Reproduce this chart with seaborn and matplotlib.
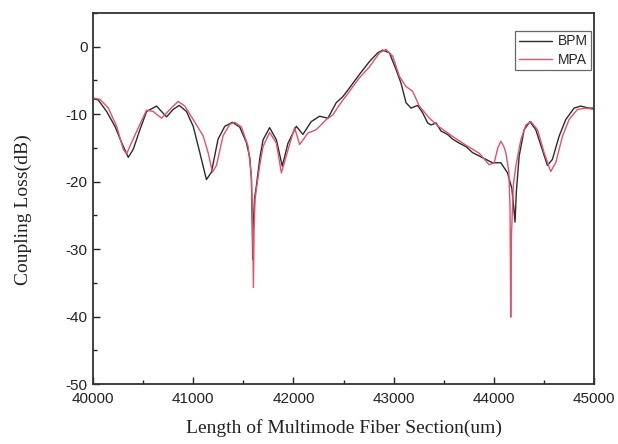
import numpy as np
import pandas as pd
import matplotlib
matplotlib.use("Agg")
import matplotlib.pyplot as plt
from matplotlib.ticker import MultipleLocator
import seaborn as sns

# ---- data ----
bpm_x = [40000, 40053, 40136, 40219, 40285, 40352, 40402, 40468, 40535, 40634,
         40684, 40734, 40800, 40860, 40933, 41000, 41066, 41132, 41182, 41248,
         41315, 41391, 41464, 41531, 41565, 41581, 41588, 41594, 41600, 41612,
         41630, 41665, 41697, 41763, 41830, 41889, 41946, 42029, 42095, 42178,
         42261, 42344, 42427, 42493, 42560, 42659, 42759, 42842, 42892, 42958,
         43025, 43074, 43124, 43174, 43240, 43290, 43340, 43374, 43424, 43473,
         43539, 43589, 43656, 43722, 43788, 43855, 43921, 43987, 44070, 44137,
         44180, 44200, 44212, 44225, 44253, 44303, 44360, 44419, 44485, 44535,
         44585, 44651, 44718, 44801, 44867, 44950, 45000]
bpm_y = [-7.7, -7.9, -9.6, -11.8, -14.2, -16.4, -15.2, -12.3, -9.6, -8.8,
         -9.6, -10.4, -9.3, -8.7, -9.6, -11.8, -15.7, -19.7, -18.6, -13.7,
         -11.8, -11.2, -11.9, -14.2, -16.5, -19.5, -25.0, -31.5, -26.5, -22.5,
         -20.7, -16.5, -13.8, -12.0, -13.8, -17.7, -14.3, -11.8, -13.0, -11.1,
         -10.3, -10.6, -8.3, -7.4, -6.1, -4.1, -2.2, -0.9, -0.5, -0.9,
         -3.4, -5.4, -8.3, -9.1, -8.7, -9.8, -11.3, -11.6, -11.3, -12.5,
         -13.0, -13.7, -14.3, -14.8, -15.7, -16.2, -16.7, -17.2, -17.2, -18.7,
         -21.0, -24.0, -26.0, -21.5, -16.2, -12.3, -11.1, -12.3, -15.3, -17.6,
         -16.7, -13.3, -10.8, -9.1, -8.8, -9.1, -9.1]

mpa_x = [40000, 40070, 40153, 40236, 40302, 40335, 40385, 40468, 40535, 40601,
         40684, 40767, 40850, 40916, 41000, 41099, 41149, 41192, 41232, 41298,
         41365, 41414, 41481, 41547, 41580, 41592, 41601, 41608, 41618, 41630,
         41665, 41697, 41763, 41830, 41880, 41946, 42012, 42062, 42145, 42228,
         42328, 42394, 42460, 42560, 42659, 42759, 42859, 42925, 42991, 43058,
         43124, 43190, 43257, 43357, 43456, 43589, 43722, 43855, 43954, 44004,
         44040, 44070, 44100, 44120, 44150, 44162, 44169, 44176, 44195, 44220,
         44270, 44320, 44370, 44436, 44502, 44568, 44618, 44685, 44751, 44834,
         44917, 45000]
mpa_y = [-7.6, -7.8, -9.1, -11.8, -15.2, -15.9, -14.2, -11.5, -9.4, -9.6,
         -10.6, -9.3, -8.1, -8.8, -10.8, -13.2, -15.7, -18.6, -17.6, -13.2,
         -11.5, -11.2, -11.9, -14.7, -19.0, -26.0, -35.7, -27.0, -22.5, -21.2,
         -17.5, -14.8, -12.7, -14.3, -18.7, -15.3, -12.0, -14.5, -12.8, -12.3,
         -10.8, -10.1, -8.6, -6.6, -4.6, -3.0, -0.9, -0.4, -1.4, -4.4,
         -5.9, -6.6, -8.8, -10.6, -11.9, -13.3, -14.6, -15.8, -17.5, -17.2,
         -15.0, -14.0, -14.8, -15.7, -18.5, -24.0, -40.1, -28.0, -20.5, -17.7,
         -13.8, -11.6, -11.1, -12.3, -15.7, -18.5, -17.2, -13.3, -10.8, -9.3,
         -9.1, -9.3]

series_names = ["BPM", "MPA"]
series_colors = ["#2b2b2b", "#e65068"]
x_label = "Length of Multimode Fiber Section(um)"
y_label = "Coupling Loss(dB)"

df = pd.concat([
    pd.DataFrame({"x": bpm_x, "y": bpm_y, "method": series_names[0]}),
    pd.DataFrame({"x": mpa_x, "y": mpa_y, "method": series_names[1]}),
], ignore_index=True)

sns.set_style("ticks")
plt.rcParams["font.family"] = ["Liberation Sans", "DejaVu Sans"]
plt.rcParams["axes.unicode_minus"] = False

W, H = 618, 444
fig = plt.figure(figsize=(W / 100, H / 100), dpi=100)
ax_l, ax_r, ax_t, ax_b = 93, 594, 13, 384
ax = fig.add_axes([ax_l / W, 1 - ax_b / H, (ax_r - ax_l) / W, (ax_b - ax_t) / H])

sns.lineplot(data=df, x="x", y="y", hue="method", palette=series_colors,
             hue_order=series_names, estimator=None, sort=False,
             linewidth=1.0, ax=ax)

ax.set_xlim(40000, 45000)
ax.set_ylim(-50, 5)
ax.xaxis.set_major_locator(MultipleLocator(1000))
ax.xaxis.set_minor_locator(MultipleLocator(500))
ax.yaxis.set_major_locator(MultipleLocator(10))
ax.yaxis.set_minor_locator(MultipleLocator(5))
ax.tick_params(axis="both", which="both", direction="in", top=False, right=False,
               width=1.0, color="#222222")
ax.tick_params(axis="both", which="major", length=5, labelsize=11,
               labelcolor="#222222")
ax.tick_params(axis="x", which="major", pad=6)
ax.tick_params(axis="y", which="major", pad=4)
ax.tick_params(axis="both", which="minor", length=3)
for s in ax.spines.values():
    s.set_visible(True)
    s.set_linewidth(1.3)
    s.set_color("#333333")

ax.set_xlabel(x_label, family=["Liberation Serif", "DejaVu Serif"], fontsize=14,
              color="#222222", labelpad=9)
ax.set_ylabel(y_label, family=["Liberation Serif", "DejaVu Serif"], fontsize=14,
              color="#222222")
ax.yaxis.set_label_coords(-(ax_l - 32) / (ax_r - ax_l), 0.47)

leg = ax.legend(loc="upper right", bbox_to_anchor=((591 - ax_l) / (ax_r - ax_l),
                                                   (ax_b - 31) / (ax_b - ax_t)),
                frameon=True, fancybox=False, fontsize=10,
                handlelength=2.4, borderpad=0.25, labelspacing=0.3,
                handletextpad=0.4, borderaxespad=0.0)
leg.get_frame().set_edgecolor("#444444")
leg.get_frame().set_linewidth(0.9)
leg.set_title(None)

fig.savefig("out.png", dpi=100)
